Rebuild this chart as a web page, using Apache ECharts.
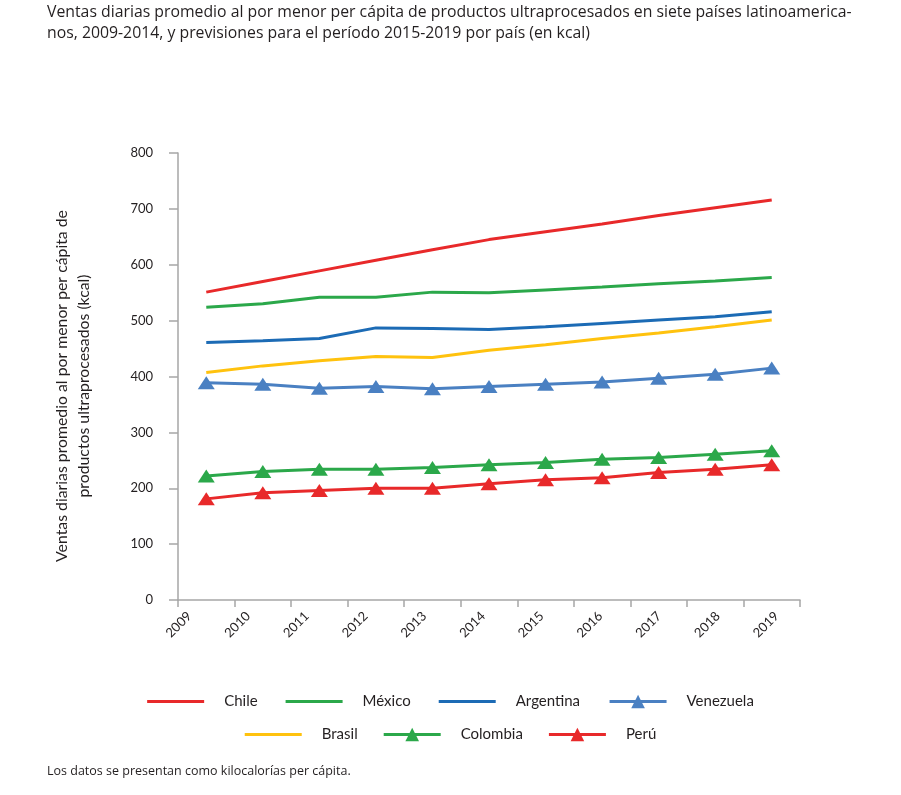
<!DOCTYPE html>
<html>
<head>
<meta charset="utf-8">
<script src="https://cdn.jsdelivr.net/npm/echarts@6/dist/echarts.min.js"></script>
<style>
html,body{margin:0;padding:0;background:#fff;}
#c{width:901px;height:795px;}
</style>
</head>
<body>
<div id="c"></div>
<script>
var years = ['2009','2010','2011','2012','2013','2014','2015','2016','2017','2018','2019'];
var chile     = [551, 570, 589, 608, 627, 645, 659, 673, 688, 702, 716];
var mexico    = [524, 530, 542, 542, 551, 550, 555, 560, 566, 571, 577];
var argentina = [461, 464, 468, 487, 486, 484, 489, 495, 501, 507, 516];
var venezuela = [389, 386, 379, 382, 378, 382, 386, 390, 397, 404, 415];
var brasil    = [407, 419, 428, 436, 434, 447, 457, 468, 478, 489, 501];
var colombia  = [222, 230, 234, 234, 237, 242, 246, 252, 255, 261, 267];
var peru      = [181, 192, 196, 200, 200, 208, 215, 219, 228, 234, 242];
var yTicks = [0, 100, 200, 300, 400, 500, 600, 700, 800];

var titleText = 'Ventas diarias promedio al por menor per cápita de productos ultraprocesados en siete países latinoamerica-\nnos, 2009-2014, y previsiones para el período 2015-2019 por país (en kcal)';
var noteText = 'Los datos se presentan como kilocalorías per cápita.';
var yName = 'Ventas diarias promedio al por menor per cápita de\nproductos ultraprocesados (kcal)';

var RED = '#E8292A', GREEN = '#2BA84A', BLUE = '#1C6BB5', LBLUE = '#4A80C2', YEL = '#FFC20E';
var axisColor = '#A6A6A6';
var F = 'Lato, "Open Sans", sans-serif';
var BAR = 'path://M0,0H57V3H0Z';

function lineSeries(name, data, color, tri) {
  return {
    name: name, type: 'line', data: data, xAxisIndex: 0, yAxisIndex: 0,
    symbol: tri ? 'triangle' : 'none', symbolSize: [17, 13], showSymbol: !!tri,
    lineStyle: {color: color, width: 3},
    itemStyle: {color: color},
    emphasis: {disabled: true}
  };
}

var legendText = {fontFamily: F, fontSize: 15, color: '#231F20', rich: {t: {fontFamily: F, fontSize: 15, color: '#231F20', padding: [0,0,0,15]}}};
function fmt(n){ return '{t|' + n + '}'; }

var chart = echarts.init(document.getElementById('c'), null, {renderer: 'canvas'});
chart.setOption({
  animation: false,
  backgroundColor: '#fff',
  title: [
    {text: titleText, left: 47, top: 2, padding: 0, textStyle: {fontFamily: '"Open Sans", sans-serif', fontSize: 15.8, fontWeight: 'normal', color: '#231F20', lineHeight: 21}},
    {text: noteText, left: 47, top: 765, padding: 0, textStyle: {fontFamily: '"Open Sans", sans-serif', fontSize: 12.5, fontWeight: 'normal', color: '#231F20'}}
  ],
  graphic: [
    {type: 'text', x: 73, y: 386, rotation: Math.PI / 2,
     style: {text: yName, fontFamily: F, fontSize: 15.8, fill: '#231F20', lineHeight: 22, align: 'center', verticalAlign: 'middle'}}
  ],
  grid: [
    {left: 178, right: 101, top: 153, bottom: 195, containLabel: false},
    {left: 160, width: 646, top: 153, bottom: 195, containLabel: false}
  ],
  legend: [
    {data: [{name: 'Chile', icon: BAR}, {name: 'México', icon: BAR}, {name: 'Argentina', icon: BAR}, 'Venezuela'],
     left: 'center', top: 689, itemWidth: 57, itemHeight: 17, itemGap: 28, formatter: fmt, textStyle: legendText,
     lineStyle: {width: 3}},
    {data: [{name: 'Brasil', icon: BAR}, 'Colombia', 'Perú'],
     left: 'center', top: 722, itemWidth: 57, itemHeight: 17, itemGap: 24.5, formatter: fmt, textStyle: legendText,
     lineStyle: {width: 3}}
  ],
  xAxis: [
    {type: 'category', gridIndex: 0, data: years, boundaryGap: true,
     axisLine: {lineStyle: {color: axisColor, width: 1.5}},
     axisTick: {show: true, length: 7, lineStyle: {color: axisColor, width: 1.5}},
     axisLabel: {show: false}, splitLine: {show: false}},
    {type: 'category', gridIndex: 1, data: years, boundaryGap: true,
     axisLine: {show: false}, axisTick: {show: false}, splitLine: {show: false},
     axisLabel: {show: true, rotate: 45, margin: 14, fontFamily: F, fontSize: 13, color: '#231F20', interval: 0}}
  ],
  yAxis: [
    {type: 'value', gridIndex: 0, min: 0, max: 800, interval: 100,
     axisLine: {show: true, lineStyle: {color: axisColor, width: 1.5}},
     axisTick: {show: true, length: 9, lineStyle: {color: axisColor, width: 1.5}},
     axisLabel: {margin: 25, fontFamily: F, fontSize: 13, color: '#231F20',
       formatter: function(v){ return yTicks.indexOf(v) >= 0 ? String(v) : ''; }},
     splitLine: {show: false}},
    {type: 'value', gridIndex: 1, min: 0, max: 800, show: false}
  ],
  series: [
    lineSeries('Chile', chile, RED, false),
    lineSeries('México', mexico, GREEN, false),
    lineSeries('Argentina', argentina, BLUE, false),
    lineSeries('Venezuela', venezuela, LBLUE, true),
    lineSeries('Brasil', brasil, YEL, false),
    lineSeries('Colombia', colombia, GREEN, true),
    lineSeries('Perú', peru, RED, true)
  ]
});
</script>
</body>
</html>
